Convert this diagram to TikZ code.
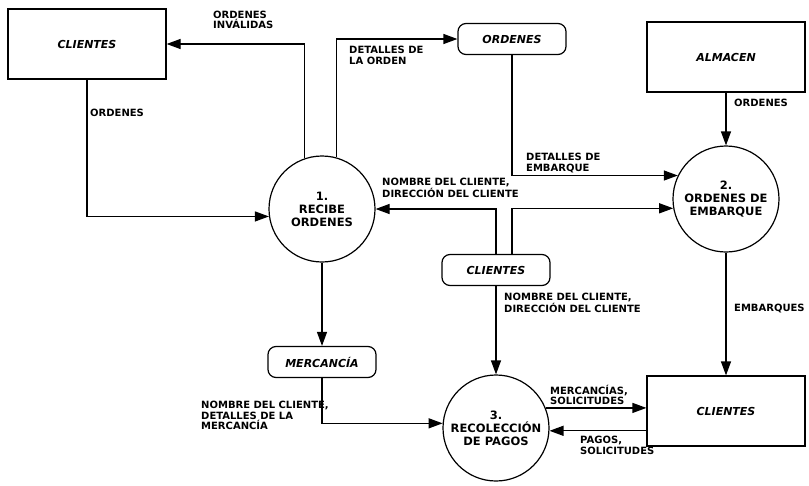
\documentclass[tikz,border=0pt]{standalone}
\usepackage{fontspec}
\setmainfont{DejaVu Sans}
\usetikzlibrary{arrows.meta,positioning,calc}

\begin{document}
\begin{tikzpicture}[x=1pt, y=-1pt,
  ent/.style={draw, line width=1.2pt, minimum width=158pt, minimum height=70pt, font=\fontsize{11}{13}\selectfont\bfseries\itshape},
  store/.style={draw, line width=1.2pt, rounded corners=8pt, minimum width=108pt, minimum height=31pt, font=\fontsize{11}{13}\selectfont\bfseries\itshape},
  proc/.style={draw, circle, line width=1.2pt, minimum size=106pt, inner sep=0pt, align=center, font=\fontsize{11.5}{13}\selectfont\bfseries},
  arr/.style={-{Triangle[length=14pt, width=10pt]}, line width=1.2pt},
  lbl/.style={font=\fontsize{10}{10.5}\selectfont\bfseries, align=left, inner sep=0pt}
]
  \useasboundingbox (0,0) rectangle (809,485);

  \node[ent] (cli1) at (87,44) {CLIENTES};
  \node[store] (ord) at (512,39) {ORDENES};
  \node[ent] (alm) at (726,57) {ALMACEN};
  \node[proc] (c1) at (322,209) {1.\\RECIBE\\ORDENES};
  \node[proc] (c2) at (726,199) {2.\\ORDENES DE\\EMBARQUE};
  \node[store] (stcli) at (496,270) {CLIENTES};
  \node[store] (merc) at (322,362) {MERCANCÍA};
  \node[proc] (c3) at (496,428) {3.\\RECOLECCIÓN\\DE PAGOS};
  \node[ent] (cli3) at (726,411) {CLIENTES};

  \node[lbl, anchor=south west] (linv) at (213,29) {ORDENES\\INVÁLIDAS};
  \node[lbl, anchor=west] (lord) at (90,113) {ORDENES};
  \node[lbl, anchor=north west] (ldet) at (349,46) {DETALLES DE\\LA ORDEN};
  \node[lbl, anchor=south west] (lemb) at (526,173) {DETALLES DE\\EMBARQUE};
  \node[lbl, anchor=west] (lalm) at (734,103) {ORDENES};
  \node[lbl, anchor=south west] (ldir) at (382,198) {NOMBRE DEL CLIENTE,\\DIRECCIÓN DEL CLIENTE};
  \node[lbl, anchor=north west] (ldirb) at (504,293) {NOMBRE DEL CLIENTE,\\DIRECCIÓN DEL CLIENTE};
  \node[lbl, anchor=west] (lembq) at (734,309) {EMBARQUES};
  \node[lbl, anchor=north west] (lmerc) at (201,401) {NOMBRE DEL CLIENTE,\\DETALLES DE LA\\MERCANCÍA};
  \node[lbl, anchor=south west] (lsol) at (550,405) {MERCANCÍAS,\\SOLICITUDES};
  \node[lbl, anchor=north west] (lpag) at (580,436) {PAGOS,\\SOLICITUDES};

  \draw[arr] (c1.109) |- (cli1.east);
  \draw[arr] (cli1.south) |- (c1.188);
  \draw[arr] (c1.74) |- (ord.west);
  \draw[arr] (ord.south) |- (c2.154);
  \draw[arr] (alm) -- (c2);
  \draw[arr] (stcli.north) |- (c1.east);
  \draw[arr] ([xshift=16pt]stcli.north) |- (c2.190);
  \draw[arr] (stcli) -- (c3);
  \draw[arr] (c1) -- (merc);
  \draw[arr] (merc.south) |- (c3.175);
  \draw[arr] (c3.22) -- (c3.22 -| cli3.west);
  \draw[arr] (c3.-3 -| cli3.west) -- (c3.-3);
  \draw[arr] (c2) -- (cli3);
\end{tikzpicture}
\end{document}
